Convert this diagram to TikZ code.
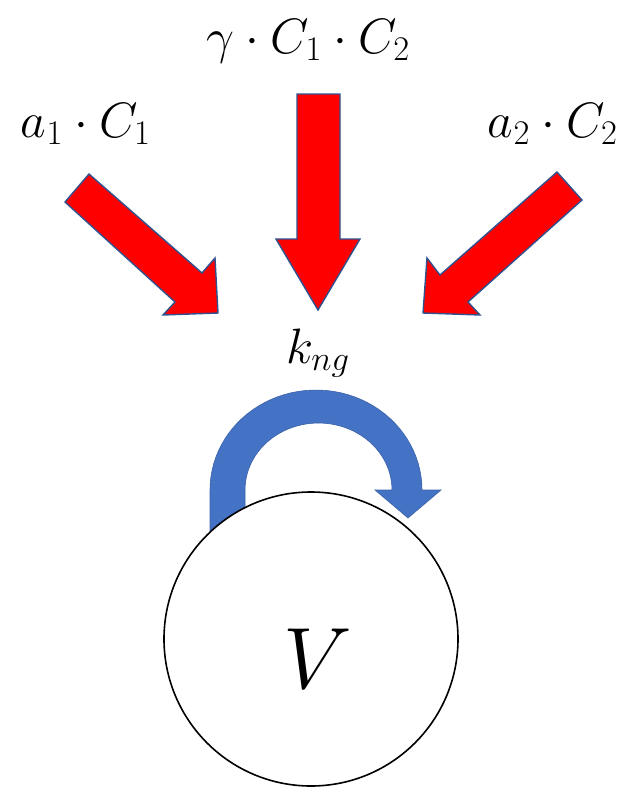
\documentclass[tikz,border=0pt]{standalone}
\usepackage{amsmath}
\usepackage{xcolor}
\usepackage{tikz}
\usetikzlibrary{calc}

\definecolor{fluxred}{HTML}{FF0000}
\definecolor{fluxedge}{HTML}{2F528F}
\definecolor{decayblue}{HTML}{4472C4}

\begin{document}
\begin{tikzpicture}[x=0.5pt,y=-0.5pt,line join=miter,
    fluxarrow/.style={fill=fluxred,draw=fluxedge,line width=0.7pt},
    decayarrow/.style={fill=decayblue,draw=decayblue!85!black,line width=0.3pt},
    ratelabel/.style={font=\fontsize{25}{30}\selectfont,anchor=base,inner sep=0pt}]
    \useasboundingbox (0,0) rectangle (629,794);
    % ============ Input fluxes (block arrows) ============
    \draw[fluxarrow] (89,174) -- (202,273) -- (215,258) -- (218,313)
      -- (163,315) -- (175,302) -- (65,202) -- cycle;
    \draw[fluxarrow] (297,94) -- (340,94) -- (340,239) -- (360,239)
      -- (318,310) -- (276,239) -- (297,239) -- cycle;
    \draw[fluxarrow] (557,172) -- (440,275) -- (427,258) -- (423,313)
      -- (480,315) -- (468,302) -- (582,200) -- cycle;
    % ============ Flux labels ============
    \node[ratelabel] (inA) at (86,137) {$a_1\cdot C_1$};
    \node[ratelabel] (inG) at (308.5,53) {$\gamma\cdot C_1\cdot C_2$};
    \node[ratelabel] (inB) at (553,137) {$a_2\cdot C_2$};
    % ============ Self loop k_ng ============
    \node[ratelabel] (kng) at (318,363) {$k_{ng}$};
    \fill[decayarrow] (210,535)
      -- plot[domain=180:360,samples=48] ({316+106*cos(\x)},{490+100*sin(\x)})
      -- (441,490) -- (408,518) -- (375,490)
      -- plot[domain=0:-180,samples=48] ({318.5+73.5*cos(\x)},{490+67*sin(\x)})
      -- (245,535) -- cycle;
    % ============ Volume ============
    \node[draw=black,fill=white,circle,line width=0.8pt,minimum size=147pt,inner sep=0pt]
      (vol) at (311,639) {};
    \node[ratelabel,scale=1.75] (vlab) at (318,688) {$V$};
\end{tikzpicture}
\end{document}
